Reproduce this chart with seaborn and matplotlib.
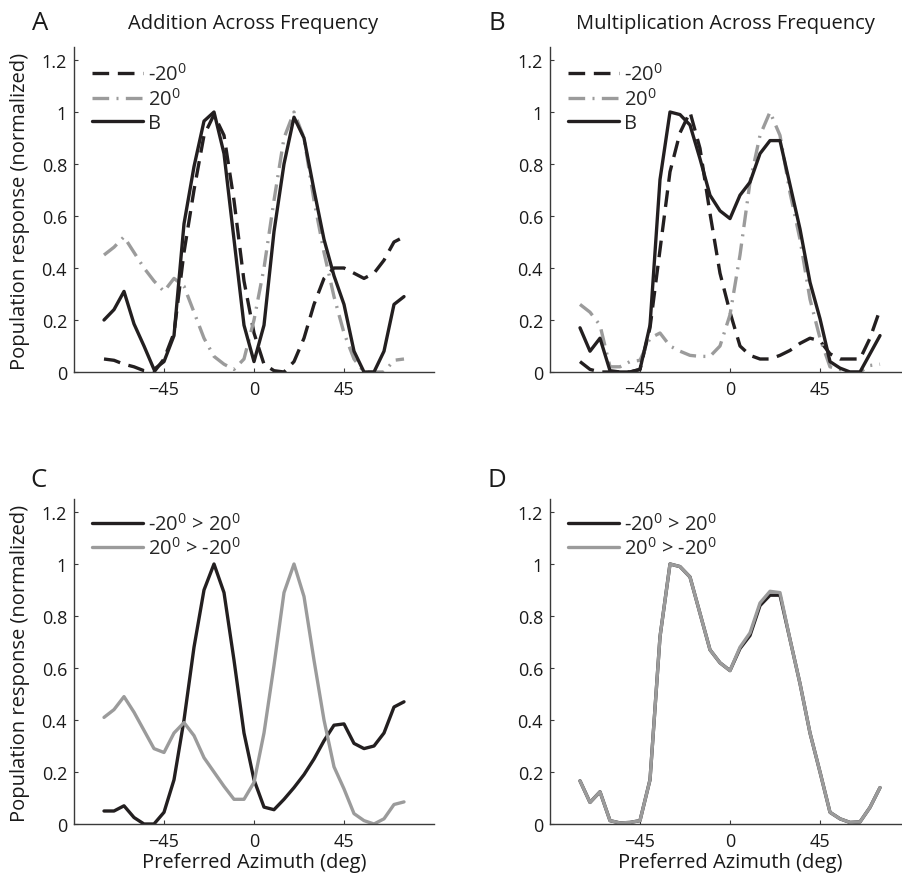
import matplotlib
matplotlib.use("Agg")
import matplotlib.pyplot as plt
import seaborn as sns

# ---------------- data ----------------
azimuth = [-75, -70, -65, -60, -55, -50, -45, -40, -35, -30, -25, -20, -15, -10, -5, 0,
           5, 10, 15, 20, 25, 30, 35, 40, 45, 50, 55, 60, 65, 70, 75]

# Panel A: Addition across frequency
add_m20 = [0.05, 0.045, 0.03, 0.02, 0.005, 0.0, 0.05, 0.15, 0.46, 0.70, 0.91, 0.99, 0.91, 0.66, 0.35, 0.15,
           0.03, 0.005, 0.0, 0.04, 0.13, 0.26, 0.36, 0.40, 0.40, 0.38, 0.36, 0.38, 0.43, 0.50, 0.52]
add_p20 = [0.45, 0.48, 0.52, 0.46, 0.40, 0.35, 0.31, 0.36, 0.33, 0.23, 0.13, 0.06, 0.03, 0.01, 0.05, 0.20,
           0.40, 0.66, 0.90, 1.0, 0.90, 0.66, 0.46, 0.29, 0.15, 0.05, 0.0, 0.0, 0.0, 0.045, 0.05]
add_both = [0.20, 0.24, 0.31, 0.185, 0.10, 0.01, 0.04, 0.14, 0.57, 0.79, 0.965, 1.0, 0.84, 0.51, 0.18, 0.04,
            0.18, 0.54, 0.80, 0.98, 0.90, 0.70, 0.51, 0.37, 0.26, 0.08, 0.0, 0.0, 0.08, 0.26, 0.29]

# Panel B: Multiplication across frequency
mul_m20 = [0.04, 0.01, 0.0, 0.0, 0.0, 0.0, 0.01, 0.17, 0.47, 0.77, 0.92, 1.0, 0.86, 0.61, 0.38, 0.23,
           0.10, 0.064, 0.05, 0.05, 0.064, 0.083, 0.11, 0.13, 0.12, 0.07, 0.05, 0.05, 0.05, 0.13, 0.24]
mul_p20 = [0.26, 0.23, 0.18, 0.02, 0.02, 0.04, 0.045, 0.13, 0.15, 0.10, 0.08, 0.064, 0.06, 0.06, 0.10, 0.22,
           0.45, 0.73, 0.91, 1.0, 0.91, 0.69, 0.51, 0.28, 0.13, 0.02, 0.01, 0.0, 0.0, 0.025, 0.03]
mul_both = [0.17, 0.08, 0.13, 0.005, 0.0, 0.0, 0.01, 0.18, 0.74, 1.0, 0.99, 0.95, 0.82, 0.68, 0.62, 0.59,
            0.68, 0.73, 0.84, 0.89, 0.89, 0.72, 0.55, 0.345, 0.205, 0.04, 0.015, 0.0, 0.0, 0.07, 0.14]

# Panel C: Addition, order of presentation
add_m20_first = [0.05, 0.05, 0.07, 0.025, 0.0, 0.0, 0.045, 0.17, 0.40, 0.68, 0.90, 1.0, 0.89, 0.63, 0.35, 0.17,
                 0.065, 0.055, 0.095, 0.14, 0.19, 0.25, 0.32, 0.38, 0.385, 0.31, 0.29, 0.30, 0.35, 0.45, 0.47]
add_p20_first = [0.41, 0.44, 0.49, 0.43, 0.36, 0.29, 0.275, 0.35, 0.39, 0.34, 0.255, 0.20, 0.145, 0.095, 0.095, 0.16,
                 0.35, 0.61, 0.89, 1.0, 0.875, 0.63, 0.40, 0.22, 0.135, 0.04, 0.013, 0.0, 0.02, 0.075, 0.085]

# Panel D: Multiplication, order of presentation
mul_m20_first = [0.166, 0.083, 0.124, 0.013, 0.004, 0.006, 0.013, 0.17, 0.72, 1.0, 0.99, 0.95, 0.81, 0.67, 0.62, 0.59,
                 0.675, 0.725, 0.84, 0.88, 0.88, 0.71, 0.54, 0.35, 0.20, 0.045, 0.02, 0.006, 0.008, 0.064, 0.14]
mul_p20_first = [0.166, 0.083, 0.124, 0.013, 0.004, 0.006, 0.013, 0.17, 0.72, 1.0, 0.99, 0.95, 0.81, 0.67, 0.62, 0.59,
                 0.68, 0.735, 0.85, 0.895, 0.89, 0.71, 0.54, 0.35, 0.20, 0.045, 0.02, 0.006, 0.008, 0.064, 0.14]

xtick_vals = [-45, 0, 45]
xtick_labels = ["\u221245", "0", "45"]
ytick_vals = [0, 0.2, 0.4, 0.6, 0.8, 1.0, 1.2]
ytick_labels = ["0", "0.2", "0.4", "0.6", "0.8", "1", "1.2"]

lab_m20 = "-20$^0$"
lab_p20 = "20$^0$"
lab_both = "B"
lab_m_first = "-20$^0$ > 20$^0$"
lab_p_first = "20$^0$ > -20$^0$"

# ---------------- style ----------------
sns.set_theme(style="ticks")
plt.rcParams["font.family"] = ["Open Sans", "DejaVu Sans"]
plt.rcParams["mathtext.fontset"] = "custom"
plt.rcParams["mathtext.rm"] = "Open Sans"
plt.rcParams["mathtext.it"] = "Open Sans:italic"
plt.rcParams["mathtext.bf"] = "Open Sans:bold"

BLACK = "#231f20"
GRAY = "#9b9b9b"
AXC = "#3a3a3a"
TXT = "#1a1a1a"
LW = 2.4
TICKFS = 13
LABFS = 14.5
LEGFS = 14.5

W, H = 902, 879
fig = plt.figure(figsize=(W / 100, H / 100), dpi=100)


def make_ax(left_px, top_px, right_px, bottom_px):
    return fig.add_axes([left_px / W, 1 - bottom_px / H, (right_px - left_px) / W, (bottom_px - top_px) / H])


def style_ax(ax):
    ax.set_xlim(-90, 90)
    ax.set_ylim(0, 1.25)
    ax.set_xticks(xtick_vals)
    ax.set_xticklabels(xtick_labels)
    ax.set_yticks(ytick_vals)
    ax.set_yticklabels(ytick_labels)
    for s in ["top", "right"]:
        ax.spines[s].set_visible(False)
    for s in ["left", "bottom"]:
        ax.spines[s].set_color(AXC)
        ax.spines[s].set_linewidth(1.0)
    ax.tick_params(direction="in", length=3, width=0.8, color=AXC, labelsize=TICKFS, labelcolor=TXT)
    ax.tick_params(axis="x", pad=6)
    ax.tick_params(axis="y", pad=5)
    ax.set_xlabel("")
    ax.set_ylabel("")
    ax.grid(False)
    ax.set_facecolor("white")


def legend(ax, x, y, spacing):
    ax.legend(loc="upper left", bbox_to_anchor=(x, y), frameon=False, fontsize=LEGFS,
              handlelength=2.55, handletextpad=0.25, labelspacing=spacing, borderpad=0, borderaxespad=0)


axA = make_ax(74, 48, 434, 373)
axB = make_ax(550, 48, 910, 373)
axC = make_ax(74, 500, 434, 825)
axD = make_ax(550, 500, 910, 825)

DASH = (0, (5, 2.6))
DASHDOT = (0, (5, 2.2, 0.6, 2.2))

for ax, m20, p20, both in [(axA, add_m20, add_p20, add_both), (axB, mul_m20, mul_p20, mul_both)]:
    sns.lineplot(x=azimuth, y=m20, ax=ax, color=BLACK, lw=LW, linestyle=DASH, label=lab_m20)
    sns.lineplot(x=azimuth, y=p20, ax=ax, color=GRAY, lw=LW, linestyle=DASHDOT, label=lab_p20)
    sns.lineplot(x=azimuth, y=both, ax=ax, color=BLACK, lw=LW, linestyle="-", label=lab_both)
    style_ax(ax)
    legend(ax, 0.05, 0.95, 0.16)

for ax, mf, pf in [(axC, add_m20_first, add_p20_first), (axD, mul_m20_first, mul_p20_first)]:
    sns.lineplot(x=azimuth, y=mf, ax=ax, color=BLACK, lw=LW, linestyle="-", label=lab_m_first)
    sns.lineplot(x=azimuth, y=pf, ax=ax, color=GRAY, lw=LW, linestyle="-", label=lab_p_first)
    style_ax(ax)
    legend(ax, 0.05, 0.958, 0.14)

# panel letters
for letter, xp, yp in [("A", 40, 23), ("B", 497, 23), ("C", 39, 481), ("D", 497, 481)]:
    fig.text(xp / W, 1 - yp / H, letter, fontsize=18.5, ha="center", va="center", color=TXT)

# titles
fig.text(253 / W, 1 - 24 / H, "Addition Across Frequency", fontsize=LABFS, ha="center", va="center", color=TXT)
fig.text(725 / W, 1 - 24 / H, "Multiplication Across Frequency", fontsize=LABFS, ha="center", va="center", color=TXT)

# y labels
for yc in [211, 663]:
    fig.text(20 / W, 1 - yc / H, "Population response (normalized)", fontsize=LABFS, rotation=90,
             ha="center", va="center", color=TXT)

# x labels
for xc in [254, 730]:
    fig.text(xc / W, 1 - 863 / H, "Preferred Azimuth (deg)", fontsize=LABFS, ha="center", va="center", color=TXT)

fig.savefig("out.png", dpi=100, facecolor="white")
